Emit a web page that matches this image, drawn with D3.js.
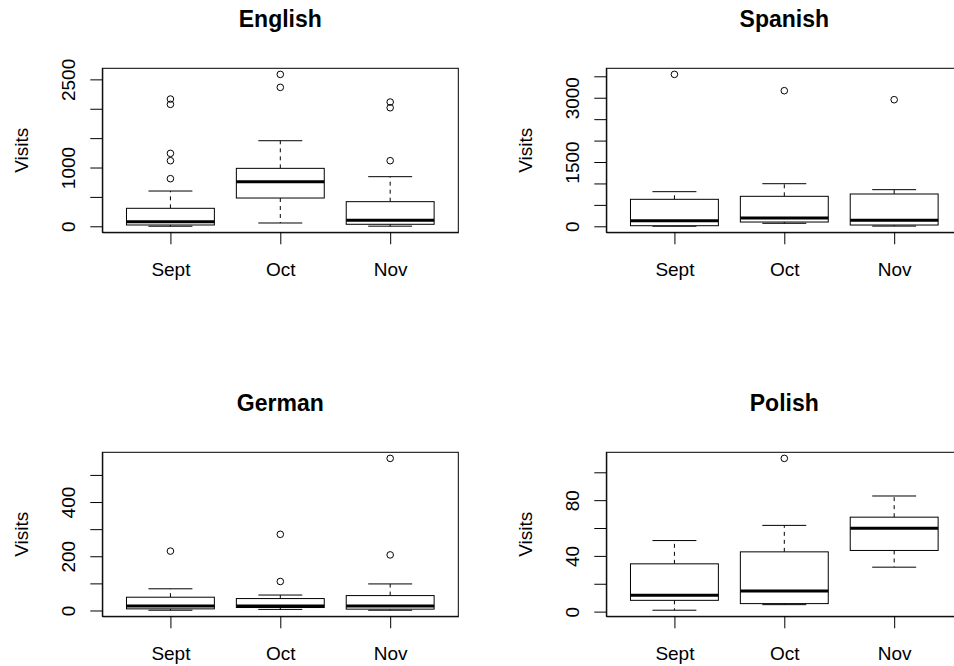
<!DOCTYPE html>
<html>
<head>
<meta charset="utf-8">
<script src="https://cdn.jsdelivr.net/npm/d3@7"></script>
<style>
  html, body { margin: 0; padding: 0; background: #fff; }
  svg { display: block; }
  text { font-family: "Liberation Sans", Arial, Helvetica, sans-serif; fill: #000; }
</style>
</head>
<body>
<svg id="chart" width="954" height="666"></svg>
<script>
// ---- data ----
const months = ["Sept", "Oct", "Nov"];
const panelTitles = ["English", "Spanish", "German", "Polish"];

// five-number summaries per month: [lower whisker, Q1, median, Q3, upper whisker]
const englishStats = [[1, 22, 78, 306, 600], [56, 481, 759, 986, 1456], [2, 34, 102, 419, 844]];
const englishOut   = [[810, 1116, 1241, 2075, 2165], [2364, 2585], [1116, 2017, 2114]];
const spanishStats = [[2, 14, 131, 630, 808], [70, 100, 194, 700, 994], [5, 30, 140, 754, 855]];
const spanishOut   = [[3545], [3164], [2954]];
const germanStats  = [[1, 6, 17, 49, 80], [4, 11, 17, 44, 57], [1, 5, 17, 55, 98]];
const germanOut    = [[219], [107, 281], [205, 561]];
const polishStats  = [[1, 8.1, 11.7, 34.3, 51], [5, 5.75, 14.8, 42.9, 61.9], [31.9, 43.9, 59.9, 67.8, 83]];
const polishOut    = [[], [110], []];

const englishTicks = [0, 500, 1000, 1500, 2000, 2500];
const englishLabels = [0, 1000, 2500];
const spanishTicks = [0, 500, 1000, 1500, 2000, 2500, 3000, 3500];
const spanishLabels = [0, 1500, 3000];
const germanTicks = [0, 100, 200, 300, 400, 500];
const germanLabels = [0, 200, 400];
const polishTicks = [0, 20, 40, 60, 80, 100];
const polishLabels = [0, 40, 80];

const yLabel = "Visits";

// ---- layout ----
const panels = [
  {title: panelTitles[0], stats: englishStats, out: englishOut, ticks: englishTicks, labels: englishLabels, dx: 0,   dy: 0},
  {title: panelTitles[1], stats: spanishStats, out: spanishOut, ticks: spanishTicks, labels: spanishLabels, dx: 504, dy: 0},
  {title: panelTitles[2], stats: germanStats,  out: germanOut,  ticks: germanTicks,  labels: germanLabels,  dx: 0,   dy: 384},
  {title: panelTitles[3], stats: polishStats,  out: polishOut,  ticks: polishTicks,  labels: polishLabels,  dx: 504, dy: 384}
];

const box = {left: 102.3, right: 458.3, top: 68.3, bottom: 232.3};
const axisFont = 19, titleFont = 23;
const svg = d3.select("#chart");
svg.append("rect").attr("width", 954).attr("height", 666).attr("fill", "#fff");

panels.forEach(p => {
  const g = svg.append("g").attr("transform", `translate(${p.dx},${p.dy})`);
  const all = [];
  p.stats.forEach(s => all.push(...s));
  p.out.forEach(o => all.push(...o));
  const lo = d3.min(all), hi = d3.max(all), r = hi - lo;
  const y = d3.scaleLinear().domain([lo - 0.04 * r, hi + 0.04 * r]).range([box.bottom, box.top]);
  const x = d3.scaleLinear().domain([0.38, 3.62]).range([box.left, box.right]);
  const unit = x(2) - x(1);
  const hw = 0.4 * unit, cw = 0.2 * unit;

  // boxes
  p.stats.forEach((s, i) => {
    const cx = x(i + 1);
    const [wl, q1, md, q3, wu] = s;
    // whiskers (dashed)
    g.append("line").attr("x1", cx).attr("x2", cx).attr("y1", y(q3)).attr("y2", y(wu))
      .attr("stroke", "#000").attr("stroke-width", 1).attr("stroke-dasharray", "4,4");
    g.append("line").attr("x1", cx).attr("x2", cx).attr("y1", y(q1)).attr("y2", y(wl))
      .attr("stroke", "#000").attr("stroke-width", 1).attr("stroke-dasharray", "4,4");
    // staples
    [wl, wu].forEach(v => g.append("line").attr("x1", cx - cw).attr("x2", cx + cw)
      .attr("y1", y(v)).attr("y2", y(v)).attr("stroke", "#000").attr("stroke-width", 1));
    // box
    g.append("rect").attr("x", cx - hw).attr("width", 2 * hw)
      .attr("y", y(q3)).attr("height", y(q1) - y(q3))
      .attr("fill", "#fff").attr("stroke", "#000").attr("stroke-width", 1);
    // median
    g.append("line").attr("x1", cx - hw).attr("x2", cx + hw).attr("y1", y(md)).attr("y2", y(md))
      .attr("stroke", "#000").attr("stroke-width", 3);
    // outliers
    p.out[i].forEach(v => g.append("circle").attr("cx", cx).attr("cy", y(v)).attr("r", 3.3)
      .attr("fill", "none").attr("stroke", "#000").attr("stroke-width", 1));
  });

  // plot frame
  g.append("rect").attr("x", box.left).attr("y", box.top)
    .attr("width", box.right - box.left).attr("height", box.bottom - box.top)
    .attr("fill", "none").attr("stroke", "#000").attr("stroke-width", 1);

  // y axis
  const ya = g.append("g").attr("transform", `translate(${box.left},0)`)
    .call(d3.axisLeft(y).tickValues(p.ticks).tickSize(12).tickSizeOuter(0)
      .tickFormat(d => p.labels.includes(d) ? d3.format("d")(d) : ""));
  ya.select(".domain").attr("stroke", "#000");
  ya.selectAll(".tick line").attr("stroke", "#000");
  ya.selectAll(".tick text")
    .attr("font-size", axisFont).attr("font-family", "Liberation Sans, Arial, sans-serif")
    .attr("fill", "#000")
    .attr("text-anchor", "middle").attr("x", null).attr("dy", null)
    .attr("transform", "translate(-27.3,0) rotate(-90)");

  // x axis
  const xa = g.append("g").attr("transform", `translate(0,${box.bottom})`)
    .call(d3.axisBottom(x).tickValues([1, 2, 3]).tickSize(12).tickSizeOuter(0)
      .tickFormat((d, i) => months[i]));
  xa.select(".domain").attr("stroke", "#000");
  xa.selectAll(".tick line").attr("stroke", "#000");
  xa.selectAll(".tick text")
    .attr("font-size", axisFont).attr("font-family", "Liberation Sans, Arial, sans-serif")
    .attr("fill", "#000").attr("dy", null).attr("y", 43.4);

  // title
  g.append("text").attr("x", (box.left + box.right) / 2).attr("y", box.top - 41.6)
    .attr("text-anchor", "middle").attr("font-size", titleFont).attr("font-weight", "bold")
    .text(p.title);

  // y label
  g.append("text").attr("transform", `translate(${box.left - 74},${(box.top + box.bottom) / 2}) rotate(-90)`)
    .attr("text-anchor", "middle").attr("font-size", axisFont).text(yLabel);
});
</script>
</body>
</html>
